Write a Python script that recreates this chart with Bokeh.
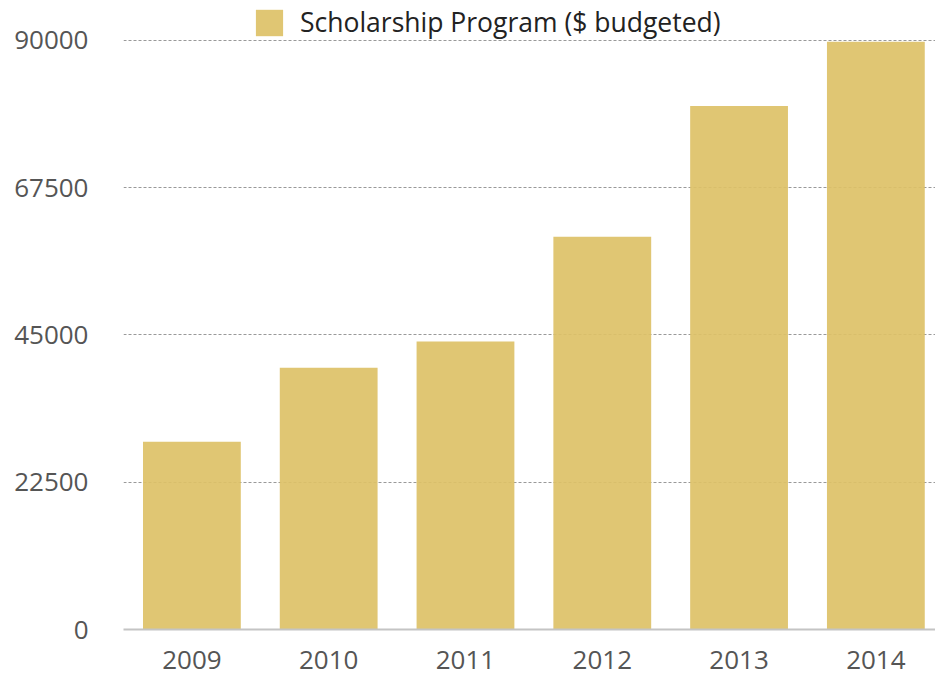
from bokeh.plotting import figure
from bokeh.models import ColumnDataSource, Range1d, FixedTicker, Legend, LegendItem
from bokeh.embed import file_html
from bokeh.resources import INLINE

years = ["2009", "2010", "2011", "2012", "2013", "2014"]
budget = [28700, 40000, 44000, 60000, 80000, 89800]
y_ticks = [0, 22500, 45000, 67500, 90000]
series_name = "Scholarship Program ($ budgeted)"

xpos = list(range(len(years)))
src = ColumnDataSource(dict(x=xpos, top=budget, year=years))

FONT = "Open Sans"

p = figure(width=935, height=675, output_backend="svg", toolbar_location=None,
           x_range=Range1d(-0.5, 5.436), y_range=Range1d(0, 96112),
           min_border_left=123, min_border_right=0, min_border_top=0,
           min_border_bottom=46)
p.outline_line_color = None
p.background_fill_color = "white"

r = p.vbar(x="x", top="top", width=0.715, source=src,
           fill_color="#DDC167", fill_alpha=0.92, line_color=None)

# axes
p.xaxis.ticker = FixedTicker(ticks=xpos)
p.xaxis.major_label_overrides = {i: y for i, y in zip(xpos, years)}
p.xaxis.axis_line_color = "#c4c4c4"
p.xaxis.axis_line_width = 2
p.xaxis.major_tick_line_color = None
p.xaxis.minor_tick_line_color = None
p.xaxis.major_label_text_font = FONT
p.xaxis.major_label_text_font_size = "26px"
p.xaxis.major_label_text_color = "#555555"
p.xaxis.major_label_standoff = 15

p.yaxis.ticker = FixedTicker(ticks=y_ticks)
p.yaxis.axis_line_color = None
p.yaxis.major_tick_line_color = None
p.yaxis.minor_tick_line_color = None
p.yaxis.major_label_text_font = FONT
p.yaxis.major_label_text_font_size = "26px"
p.yaxis.major_label_text_color = "#555555"
p.yaxis.major_label_standoff = 29

p.xgrid.grid_line_color = None
p.ygrid.ticker = FixedTicker(ticks=y_ticks[1:])
p.ygrid.grid_line_color = "#999999"
p.ygrid.grid_line_dash = "3 2"
p.ygrid.grid_line_width = 1

legend = Legend(items=[LegendItem(label=series_name, renderers=[r])],
                location=(129, 589), orientation="horizontal",
                label_text_font=FONT, label_text_font_size="26.5px",
                label_text_color="#222222",
                glyph_width=34, glyph_height=33, label_height=33,
                label_standoff=14, padding=3, margin=0, spacing=0,
                border_line_color=None, background_fill_alpha=0)
p.add_layout(legend, "center")

open("out.html", "w").write(file_html(p, INLINE))
